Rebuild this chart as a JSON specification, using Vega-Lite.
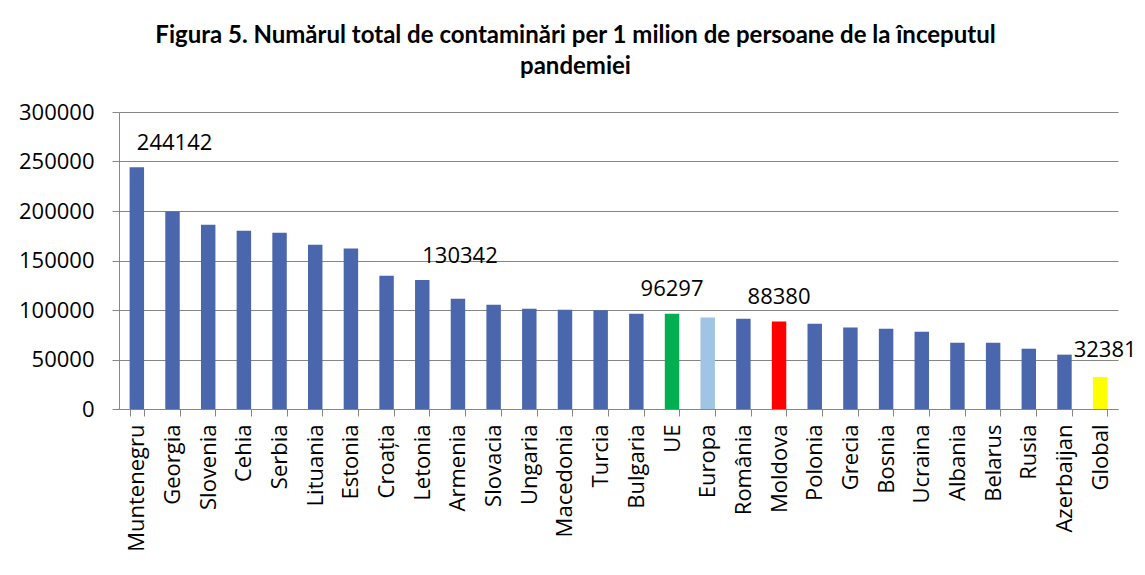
{
  "$schema": "https://vega.github.io/schema/vega-lite/v6.json",
  "width": 999,
  "height": 297,
  "autosize": "none",
  "padding": {"left": 119, "top": 112, "right": 27, "bottom": 166},
  "background": "white",
  "title": {
    "text": ["Figura 5. Numărul total de contaminări per 1 milion de persoane de la începutul", "pandemiei"],
    "font": "Lato",
    "fontSize": 24,
    "fontWeight": "bold",
    "color": "#000000",
    "lineHeight": 31,
    "anchor": "middle",
    "dx": -43,
    "offset": 22
  },
  "data": {
    "values": [
      {"tara": "Muntenegru", "valoare": 244142, "grup": "tara", "eticheta": "244142", "pozitie": "stanga"},
      {"tara": "Georgia", "valoare": 199500, "grup": "tara"},
      {"tara": "Slovenia", "valoare": 186200, "grup": "tara"},
      {"tara": "Cehia", "valoare": 180100, "grup": "tara"},
      {"tara": "Serbia", "valoare": 178100, "grup": "tara"},
      {"tara": "Lituania", "valoare": 166000, "grup": "tara"},
      {"tara": "Estonia", "valoare": 162000, "grup": "tara"},
      {"tara": "Croația", "valoare": 134700, "grup": "tara"},
      {"tara": "Letonia", "valoare": 130342, "grup": "tara", "eticheta": "130342", "pozitie": "stanga"},
      {"tara": "Armenia", "valoare": 111400, "grup": "tara"},
      {"tara": "Slovacia", "valoare": 105400, "grup": "tara"},
      {"tara": "Ungaria", "valoare": 101300, "grup": "tara"},
      {"tara": "Macedonia", "valoare": 100300, "grup": "tara"},
      {"tara": "Turcia", "valoare": 99700, "grup": "tara"},
      {"tara": "Bulgaria", "valoare": 96300, "grup": "tara"},
      {"tara": "UE", "valoare": 96297, "grup": "UE", "eticheta": "96297", "pozitie": "centru"},
      {"tara": "Europa", "valoare": 92300, "grup": "Europa"},
      {"tara": "România", "valoare": 91200, "grup": "tara"},
      {"tara": "Moldova", "valoare": 88380, "grup": "Moldova", "eticheta": "88380", "pozitie": "centru"},
      {"tara": "Polonia", "valoare": 86200, "grup": "tara"},
      {"tara": "Grecia", "valoare": 82200, "grup": "tara"},
      {"tara": "Bosnia", "valoare": 81100, "grup": "tara"},
      {"tara": "Ucraina", "valoare": 78100, "grup": "tara"},
      {"tara": "Albania", "valoare": 67000, "grup": "tara"},
      {"tara": "Belarus", "valoare": 67000, "grup": "tara"},
      {"tara": "Rusia", "valoare": 60900, "grup": "tara"},
      {"tara": "Azerbaijan", "valoare": 54900, "grup": "tara"},
      {"tara": "Global", "valoare": 32381, "grup": "Global", "eticheta": "32381", "pozitie": "dreapta"}
    ]
  },
  "encoding": {
    "x": {
      "field": "tara",
      "type": "nominal",
      "sort": null,
      "scale": {"paddingInner": 0.595, "paddingOuter": 0.2975},
      "axis": {
        "title": null,
        "labelAngle": -90,
        "labelFont": "Open Sans",
        "labelFontSize": 22,
        "labelColor": "#000000",
        "labelPadding": 8,
        "labelBaseline": "middle",
        "tickBand": "extent",
        "ticks": true,
        "tickSize": 7,
        "tickColor": "#868686",
        "domainColor": "#868686"
      }
    },
    "y": {
      "field": "valoare",
      "type": "quantitative",
      "scale": {"domain": [0, 300000]},
      "axis": {
        "title": null,
        "values": [0, 50000, 100000, 150000, 200000, 250000, 300000],
        "format": "d",
        "labelFont": "Open Sans",
        "labelFontSize": 22,
        "labelColor": "#000000",
        "labelPadding": 18,
        "labelBaseline": "alphabetic",
        "labelOffset": 7,
        "tickSize": 7,
        "tickColor": "#868686",
        "domainColor": "#868686",
        "gridColor": "#868686",
        "grid": true
      }
    }
  },
  "layer": [
    {
      "mark": {"type": "bar"},
      "encoding": {
        "color": {
          "field": "grup",
          "type": "nominal",
          "legend": null,
          "scale": {
            "domain": ["tara", "UE", "Europa", "Moldova", "Global"],
            "range": ["#4A66AC", "#00B050", "#A0C4E4", "#FF0000", "#FFFF00"]
          }
        }
      }
    },
    {
      "transform": [{"filter": "datum.pozitie == 'stanga'"}],
      "mark": {"type": "text", "font": "Open Sans", "fontSize": 22, "color": "#000000", "baseline": "alphabetic", "align": "left", "dy": -17},
      "encoding": {"text": {"field": "eticheta"}}
    },
    {
      "transform": [{"filter": "datum.pozitie == 'centru'"}],
      "mark": {"type": "text", "font": "Open Sans", "fontSize": 22, "color": "#000000", "baseline": "alphabetic", "align": "center", "dy": -18},
      "encoding": {"text": {"field": "eticheta"}}
    },
    {
      "transform": [{"filter": "datum.pozitie == 'dreapta'"}],
      "mark": {"type": "text", "font": "Open Sans", "fontSize": 22, "color": "#000000", "baseline": "alphabetic", "align": "center", "dx": 5, "dy": -20},
      "encoding": {"text": {"field": "eticheta"}}
    }
  ],
  "config": {"view": {"stroke": null}, "axis": {"domainWidth": 1, "gridWidth": 1}}
}
